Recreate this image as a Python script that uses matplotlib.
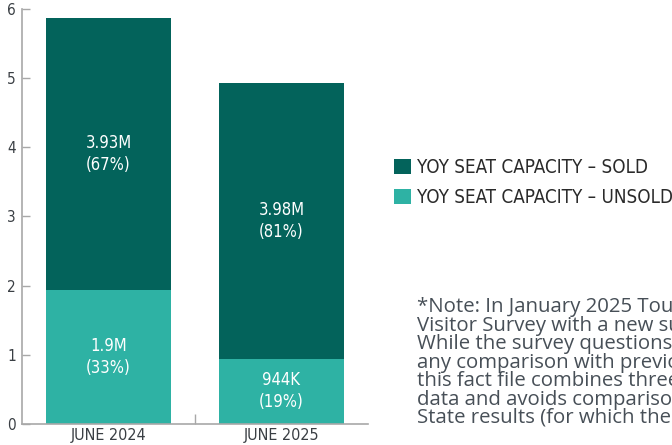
import matplotlib
matplotlib.use("Agg")
import matplotlib.pyplot as plt
from matplotlib.patches import Patch
import numpy as np

# ---- data ----
categories = ['JUNE 2024', 'JUNE 2025']
unsold = [1.94, 0.944]
sold = [3.93, 3.98]
unsold_labels = ['1.9M\n(33%)', '944K\n(19%)']
sold_labels = ['3.93M\n(67%)', '3.98M\n(81%)']
legend_labels = ['YOY SEAT CAPACITY – SOLD', 'YOY SEAT CAPACITY – UNSOLD']
yticks = [0, 1, 2, 3, 4, 5, 6]
note_lines = [
    "*Note: In January 2025 Tourism Research Australia replaced the International",
    "Visitor Survey with a new survey methodology and provider.",
    "While the survey questions remain largely the same,",
    "any comparison with previous results should be treated with caution;",
    "this fact file combines three months of the new",
    "data and avoids comparison with the previous",
    "State results (for which the data is not yet available).",
]

# ---- style ----
SOLD = '#03635B'
UNSOLD = '#2EB2A4'
SPINE = '#a8a8a8'
TXT = '#3a3f44'
COND = ['DejaVu Sans Condensed', 'Liberation Sans Narrow', 'DejaVu Sans']
CST = 'condensed'

W, H = 672, 445
fig = plt.figure(figsize=(W / 100, H / 100), dpi=100)
ax = fig.add_axes([22 / W, 21 / H, 346 / W, (424 - 8.8) / H])

x = np.arange(len(categories))
bw = 0.72
ax.bar(x, unsold, width=bw, color=UNSOLD, label=legend_labels[1])
ax.bar(x, sold, width=bw, bottom=unsold, color=SOLD, label=legend_labels[0])

for i in range(len(categories)):
    ax.text(x[i], unsold[i] / 2, unsold_labels[i], ha='center', va='center',
            color='white', fontsize=12, family=COND, stretch=CST, linespacing=1.3)
    ax.text(x[i], unsold[i] + sold[i] / 2, sold_labels[i], ha='center', va='center',
            color='white', fontsize=12, family=COND, stretch=CST, linespacing=1.3)

ax.set_xlim(-0.5, 1.5)
ax.set_ylim(0, 6)
ax.set_yticks(yticks)
ax.set_yticklabels([str(t) for t in yticks], family=COND, stretch=CST, fontsize=11, color=TXT)
ax.set_xticks(x)
ax.set_xticklabels(categories, family=COND, stretch=CST, fontsize=11.5, color=TXT)
ax.set_xticks([0.5], minor=True)

for s in ['top', 'right']:
    ax.spines[s].set_visible(False)
for s in ['left', 'bottom']:
    ax.spines[s].set_color(SPINE)
    ax.spines[s].set_linewidth(1.2)

ax.tick_params(axis='y', direction='in', length=5.5, width=1, color=SPINE, pad=4.3)
ax.tick_params(axis='x', which='major', length=0, pad=3.0)
ax.tick_params(axis='x', which='minor', direction='in', length=7.2, width=1, color=SPINE)

handles = [Patch(facecolor=SOLD), Patch(facecolor=UNSOLD)]
leg = fig.legend(handles, legend_labels, loc='center left',
                 bbox_to_anchor=(394 / W, 1 - 182.5 / H), frameon=False,
                 borderpad=0, borderaxespad=0, handlelength=0.88, handleheight=0.88,
                 handletextpad=0.37, labelspacing=0.6,
                 prop={'family': COND, 'stretch': CST, 'size': 13.5})
for t in leg.get_texts():
    t.set_color('#2a2a2a')

fig.text(417 / W, 1 - 297 / H, "\n".join(note_lines), ha='left', va='top',
         family=['Open Sans', 'DejaVu Sans'], fontsize=14.7, color='#474f57',
         linespacing=0.905)

fig.savefig('out.png', dpi=100)
